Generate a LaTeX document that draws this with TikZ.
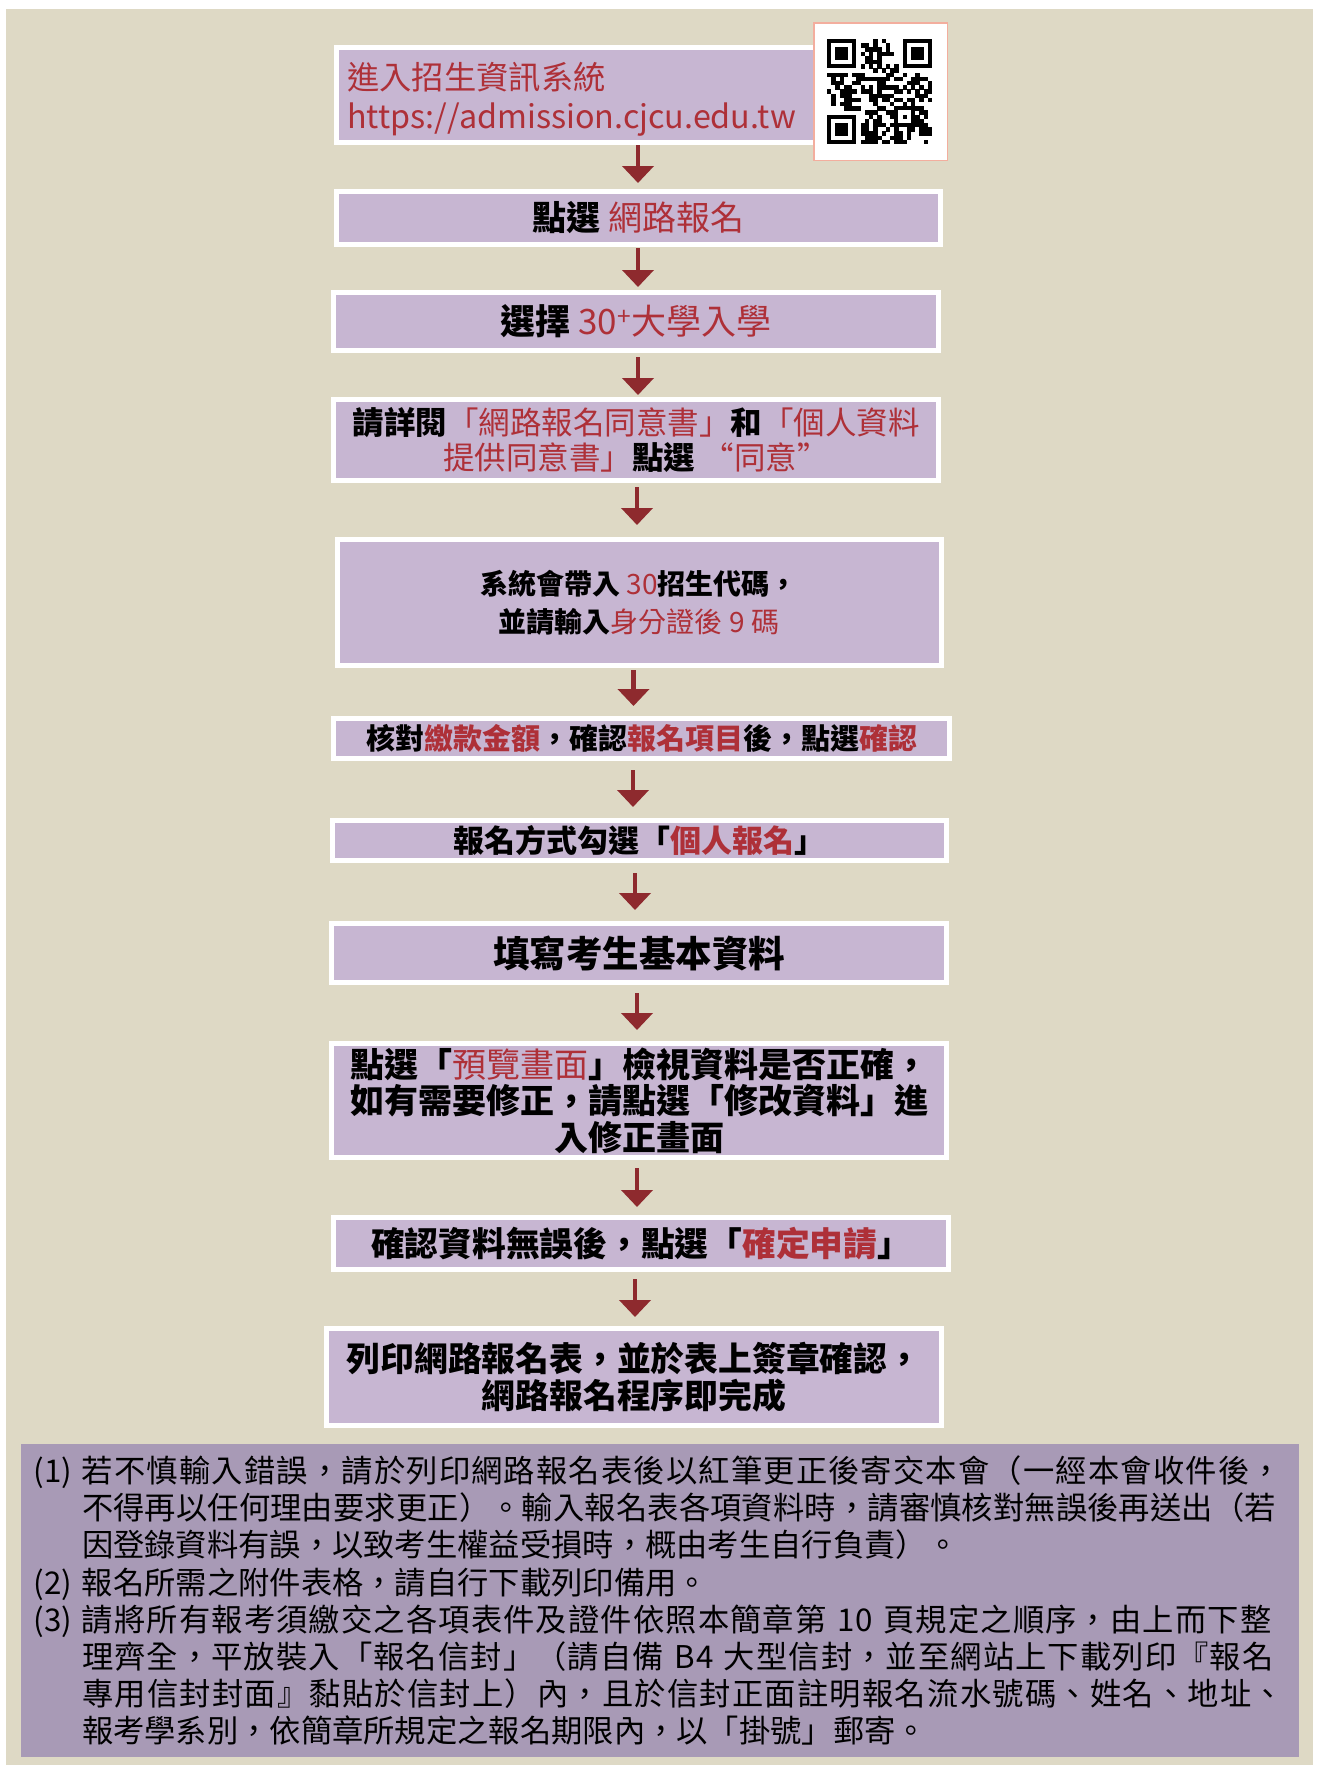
\documentclass[tikz,border=0pt]{standalone}
\usepackage{fontspec}
\setmainfont{Noto Sans CJK TC}
\usetikzlibrary{arrows.meta}
\definecolor{bgbeige}{HTML}{DED9C5}
\definecolor{boxlav}{HTML}{C7B6D2}
\definecolor{notelav}{HTML}{A89AB6}
\definecolor{tred}{HTML}{AE3038}
\definecolor{arrred}{HTML}{8E2A2E}
\definecolor{qrborder}{HTML}{F3AE9E}
\newcommand{\redn}[1]{{\color{tred}\mdseries #1}}
\newcommand{\redb}[1]{{\color{tred}#1}}
\newcommand{\lbl}[1]{\makebox[48pt][l]{#1}}
\newcommand{\lsp}[2]{{\addfontfeature{LetterSpace=#1}#2}}
\begin{document}
\begin{tikzpicture}[x=1pt,y=-1pt,
  stepbox/.style={draw=white, line width=5pt, fill=boxlav, inner sep=0pt, align=center},
  arr/.style={draw=arrred, line width=4.5pt, -{Triangle[width=31pt,length=17pt]}},
  notebox/.style={fill=notelav, inner xsep=13pt, inner ysep=0pt, align=left}]
\useasboundingbox (0,0) rectangle (1319,1765);
\fill[white] (0,0) rectangle (1319,1765);
\fill[bgbeige] (6,9) rectangle (1313,1765);

% boxes
\node[stepbox, minimum width=603pt, minimum height=95pt] (b1) at (638,95) {};
\node[anchor=west, inner sep=0pt, align=left, text=tred, font=\fontsize{32.3}{39}\selectfont] (t1) at (347,99)
  {進入招生資訊系統\\https://admission.cjcu.edu.tw};

\node[stepbox, minimum width=604pt, minimum height=53pt, font=\fontsize{34}{40}\selectfont\bfseries] (b2) at (638.5,218)
  {點選 \redn{網路報名}};

\node[stepbox, minimum width=605pt, minimum height=58pt, font=\fontsize{35}{42}\selectfont\bfseries] (b3) at (636,321.5)
  {選擇 \redn{30\textsuperscript{+}大學入學}};

\node[stepbox, minimum width=605pt, minimum height=81pt, font=\fontsize{31.5}{35}\selectfont\bfseries] (b4) at (636,440)
  {請詳閱\redn{「網路報名同意書」}和\redn{「個人資料}\\\redn{提供同意書」}點選 \redn{“同意”}};

\node[stepbox, minimum width=604pt, minimum height=126pt, font=\fontsize{28}{38}\selectfont\bfseries] (b5) at (639,602.5)
  {系統會帶入 \redn{30}招生代碼，\\並請輸入\redn{身分證後 9 碼}};

\node[stepbox, minimum width=616pt, minimum height=40pt, font=\fontsize{29}{35}\selectfont\bfseries] (b6) at (641.5,738.5)
  {核對\redb{繳款金額}，確認\redb{報名項目}後，點選\redb{確認}};

\node[stepbox, minimum width=614pt, minimum height=40pt, font=\fontsize{31}{37}\selectfont\bfseries] (b7) at (639,840.5)
  {報名方式勾選「\redb{個人報名}」};

\node[stepbox, minimum width=615pt, minimum height=59pt, font=\fontsize{36.5}{42}\selectfont\bfseries] (b8) at (639,953)
  {填寫考生基本資料};

\node[stepbox, minimum width=615pt, minimum height=114pt, font=\fontsize{34}{36.5}\selectfont\bfseries] (b9) at (639,1100.5)
  {點選「\redn{預覽畫面}」檢視資料是否正確，\\如有需要修正，請點選「修改資料」進\\入修正畫面};

\node[stepbox, minimum width=615pt, minimum height=52pt, font=\fontsize{33.75}{40}\selectfont\bfseries] (b10) at (641,1243.5)
  {確認資料無誤後，點選「\redb{確定申請}」};

\node[stepbox, minimum width=615pt, minimum height=97pt, font=\fontsize{33.8}{37}\selectfont\bfseries] (b11) at (634,1377)
  {列印網路報名表，並於表上簽章確認，\\網路報名程序即完成};

% QR code
\draw[draw=qrborder, line width=1.5pt, fill=white] (813.75,22.75) rectangle (947.25,160.25);
\pgfmathsetseed{4711}
\foreach \i in {0,...,24}{
  \foreach \j in {0,...,24}{
    \pgfmathtruncatemacro{\qres}{((\i<8)&&(\j<8)) || ((\i>16)&&(\j<8)) || ((\i<8)&&(\j>16)) || ((\i>15)&&(\i<21)&&(\j>15)&&(\j<21)) || (\i==6) || (\j==6) ? 1 : 0}
    \ifnum\qres=0
      \pgfmathrandominteger{\qrr}{0}{1}
      \ifnum\qrr=1
        \fill[black] (827+4.2*\i,39+4.2*\j) rectangle ++(4.3,4.3);
      \fi
    \fi
  }
}
\foreach \fx/\fy in {0/0,18/0,0/18}{
  \fill[black] (827+4.2*\fx,39+4.2*\fy) rectangle ++(29.4,29.4);
  \fill[white] (831.2+4.2*\fx,43.2+4.2*\fy) rectangle ++(21,21);
  \fill[black] (835.4+4.2*\fx,47.4+4.2*\fy) rectangle ++(12.6,12.6);
}
\foreach \k in {8,10,...,16}{
  \fill[black] (827+4.2*\k,39+4.2*6) rectangle ++(4.3,4.3);
  \fill[black] (827+4.2*6,39+4.2*\k) rectangle ++(4.3,4.3);
}
\fill[black] (827+4.2*16,39+4.2*16) rectangle ++(21,21);
\fill[white] (827+4.2*17,39+4.2*17) rectangle ++(12.6,12.6);
\fill[black] (827+4.2*18,39+4.2*18) rectangle ++(4.2,4.2);

% arrows
\draw[arr, shorten >=6pt] ([xshift=0pt]b1.south) -- ([xshift=-0.5pt]b2.north);
\draw[arr, shorten <=1pt, shorten >=3pt] ([xshift=-0.5pt]b2.south) -- ([xshift=2pt]b3.north);
\draw[arr, shorten <=4pt, shorten >=2pt] ([xshift=2pt]b3.south) -- ([xshift=2pt]b4.north);
\draw[arr, shorten <=4pt, shorten >=12pt] ([xshift=1pt]b4.south) -- ([xshift=-2pt]b5.north);
\draw[arr, shorten <=2pt, shorten >=10pt] ([xshift=-5.5pt]b5.south) -- ([xshift=-8pt]b6.north);
\draw[arr, shorten <=9pt, shorten >=11pt] ([xshift=-8.5pt]b6.south) -- ([xshift=-6pt]b7.north);
\draw[arr, shorten <=10pt, shorten >=11pt] ([xshift=-4pt]b7.south) -- ([xshift=-4pt]b8.north);
\draw[arr, shorten <=8pt, shorten >=11pt] ([xshift=-2pt]b8.south) -- ([xshift=-2pt]b9.north);
\draw[arr, shorten <=8pt, shorten >=8pt] ([xshift=-2pt]b9.south) -- ([xshift=-4pt]b10.north);
\draw[arr, shorten <=7pt, shorten >=9pt] ([xshift=-6pt]b10.south) -- ([xshift=1pt]b11.north);

% notes
\node[notebox, minimum width=1278pt, minimum height=313pt, text width=1252pt,
      font=\fontsize{31.3}{37.1}\selectfont] (note) at (660,1600.5)
  {\lbl{(1)}\lsp{3.7}{若不慎輸入錯誤，請於列印網路報名表後以紅筆更正後寄交本會（一經本會收件後，}\\
   \lbl{}\lsp{0.4}{不得再以任何理由要求更正）。輸入報名表各項資料時，請審慎核對無誤後再送出（若}\\
   \lbl{}因登錄資料有誤，以致考生權益受損時，概由考生自行負責）。\\
   \lbl{(2)}報名所需之附件表格，請自行下載列印備用。\\
   \lbl{(3)}\lsp{3.6}{請將所有報考須繳交之各項表件及證件依照本簡章第 10 頁規定之順序，由上而下整}\\
   \lbl{}\lsp{3.5}{理齊全，平放裝入「報名信封」（請自備 B4 大型信封，並至網站上下載列印『報名}\\
   \lbl{}\lsp{3.9}{專用信封封面』黏貼於信封上）內，且於信封正面註明報名流水號碼、姓名、地址、}\\
   \lbl{}報考學系別，依簡章所規定之報名期限內，以「掛號」郵寄。};
\end{tikzpicture}
\end{document}
